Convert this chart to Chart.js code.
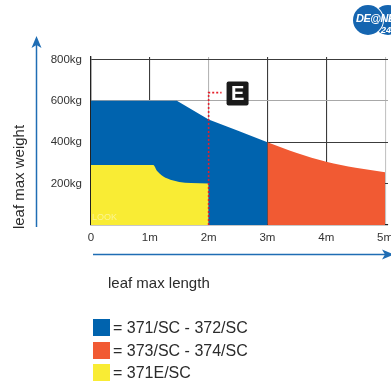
<!DOCTYPE html>
<html>
<head>
<meta charset="utf-8">
<title>leaf max weight / leaf max length</title>
<script src="https://cdn.jsdelivr.net/npm/chart.js@4.4.1/dist/chart.umd.min.js"></script>
<style>
  html, body { margin: 0; padding: 0; background: #fff; }
  #wrap {
    position: relative; width: 391px; height: 385px; overflow: hidden;
    font-family: "Liberation Sans", Arial, Helvetica, sans-serif; color: #2b2b2b;
  }
  #chart { position: absolute; left: 0; top: 0; }
  svg.arrows { position: absolute; left: 0; top: 0; }
  .ytitle {
    position: absolute; left: 18px; top: 177px; font-size: 15px; white-space: nowrap;
    transform: translate(-50%, -50%) rotate(-90deg);
  }
  .xtitle { position: absolute; left: 108px; top: 274px; font-size: 15px; white-space: nowrap; }
  .watermark { position: absolute; left: 92px; top: 212px; font-size: 9px; color: rgba(255,255,255,0.45); }
  .legend { position: absolute; left: 93px; top: 319px; font-size: 16px; }
  .legend .row { height: 22.5px; display: flex; align-items: flex-start; white-space: nowrap; }
  .legend .sw { width: 17px; height: 17px; margin-right: 3px; flex: none; }
  .legend .txt { line-height: 17px; }
  .logo { position: absolute; left: 353px; top: 5px; width: 60px; height: 32px; }
  .logo .c { position: absolute; top: 0; width: 30px; height: 30px; border-radius: 50%; background: #1565b0; box-shadow: 0 0 0 1px #fff; }
  .logo .t1 { position: absolute; left: 3px; top: 7px; color: #fff; font: italic bold 11px "Liberation Sans", Arial, sans-serif; letter-spacing: -0.5px; }
  .logo .t2 { position: absolute; left: 28px; top: 20px; color: #fff; font: italic bold 9px "Liberation Sans", Arial, sans-serif; }
</style>
</head>
<body>
<div id="wrap">
  <canvas id="chart" width="391" height="385"></canvas>

  <svg class="arrows" width="391" height="385">
    <!-- vertical (weight) arrow -->
    <line x1="36.5" y1="227" x2="36.5" y2="45" stroke="#1f6db4" stroke-width="1.5"/>
    <polygon points="36.5,36 31.5,48 36.5,45 41.5,48" fill="#1f6db4"/>
    <!-- horizontal (length) arrow -->
    <line x1="93" y1="254.5" x2="386" y2="254.5" stroke="#1f6db4" stroke-width="1.5"/>
    <polygon points="394,254.5 382,249.5 385,254.5 382,259.5" fill="#1f6db4"/>
  </svg>

  <div class="ytitle">leaf max weight</div>
  <div class="xtitle">leaf max length</div>
  <div class="watermark">LOOK</div>

  <div class="legend" id="legend"></div>

  <div class="logo">
    <div class="c" style="left:20px"></div>
    <div class="c" style="left:0"></div>
    <span class="t1">DE@NE</span>
    <span class="t2">24</span>
  </div>
</div>

<script>
    // ---- data ----
    const lengthTicks = [0, 1, 2, 3, 4, 5];          // m
    const weightTicks = [200, 400, 600, 800];        // kg

    // 371/SC - 372/SC (blue)
    const blueLength = [0, 1.46, 2, 2.5, 3];
    const blueWeight = [600, 600, 510, 455, 400];

    // 373/SC - 374/SC (red)
    const redLength = [3, 3.5, 4, 4.5, 5];
    const redWeight = [400, 348, 306, 277, 255];

    // 371E/SC (yellow)
    const yellowLength = [0, 1.06, 1.12, 1.17, 1.23, 1.3, 1.4, 1.5, 1.7, 2];
    const yellowWeight = [290, 290, 262, 248, 235, 225, 215, 208, 203, 200];

    // dotted marker leading to the "E" tag
    const markerLength = [2, 2, 2.22];
    const markerWeight = [0, 640, 640];
    const markerText = 'E';

    const seriesLabels = ['371/SC - 372/SC', '373/SC - 374/SC', '371E/SC'];
    const seriesColors = ['#0063ae', '#f15a33', '#f9ec34'];

    const FONT = '"Liberation Sans", Arial, Helvetica, sans-serif';

    function toPoints(xs, ys) {
        return xs.map((x, i) => ({ x: x, y: ys[i] }));
    }

    // legend as html
    const legendEl = document.getElementById('legend');
    seriesLabels.forEach((label, i) => {
        const row = document.createElement('div');
        row.className = 'row';
        row.innerHTML = `<span class="sw" style="background:${seriesColors[i]}"></span><span class="txt">= ${label}</span>`;
        legendEl.appendChild(row);
    });

    // black "E" tag at the end of the dotted marker
    const markerTag = {
        id: 'markerTag',
        afterDraw(chart) {
            const { ctx } = chart;
            const xs = chart.scales.x, ys = chart.scales.y;
            const last = markerLength.length - 1;
            const px = xs.getPixelForValue(markerLength[last]);
            const py = ys.getPixelForValue(markerWeight[last]);
            const w = 22, h = 24, r = 2;
            const left = px + 5, top = py - h / 2 + 1;

            ctx.save();
            ctx.fillStyle = '#1a1a1a';
            ctx.beginPath();
            ctx.moveTo(left + r, top);
            ctx.lineTo(left + w - r, top);
            ctx.quadraticCurveTo(left + w, top, left + w, top + r);
            ctx.lineTo(left + w, top + h - r);
            ctx.quadraticCurveTo(left + w, top + h, left + w - r, top + h);
            ctx.lineTo(left + r, top + h);
            ctx.quadraticCurveTo(left, top + h, left, top + h - r);
            ctx.lineTo(left, top + r);
            ctx.quadraticCurveTo(left, top, left + r, top);
            ctx.fill();

            ctx.fillStyle = '#fff';
            ctx.font = 'bold 20px ' + FONT;
            ctx.textAlign = 'center';
            ctx.textBaseline = 'middle';
            ctx.fillText(markerText, left + w / 2, top + h / 2 + 1);
            ctx.restore();
        }
    };

    new Chart(document.getElementById('chart'), {
        type: 'line',
        data: {
            datasets: [
                {
                    label: 'marker',
                    data: toPoints(markerLength, markerWeight),
                    borderColor: '#e5202a',
                    borderWidth: 1.6,
                    borderDash: [2, 2],
                    pointRadius: 0,
                    fill: false,
                    tension: 0,
                    order: 0
                },
                {
                    label: seriesLabels[2],
                    data: toPoints(yellowLength, yellowWeight),
                    backgroundColor: seriesColors[2],
                    borderWidth: 0,
                    pointRadius: 0,
                    fill: 'origin',
                    cubicInterpolationMode: 'monotone',
                    order: 1
                },
                {
                    label: seriesLabels[0],
                    data: toPoints(blueLength, blueWeight),
                    backgroundColor: seriesColors[0],
                    borderWidth: 0,
                    pointRadius: 0,
                    fill: 'origin',
                    tension: 0,
                    order: 3
                },
                {
                    label: seriesLabels[1],
                    data: toPoints(redLength, redWeight),
                    backgroundColor: seriesColors[1],
                    borderWidth: 0,
                    pointRadius: 0,
                    fill: 'origin',
                    cubicInterpolationMode: 'monotone',
                    order: 3
                }
            ]
        },
        options: {
            responsive: false,
            animation: false,
            layout: { padding: { left: 0, top: 57, right: 3, bottom: 0 } },
            plugins: {
                legend: { display: false },
                tooltip: { enabled: false }
            },
            scales: {
                x: {
                    type: 'linear',
                    min: 0,
                    max: 5.05,
                    z: 1,
                    afterBuildTicks: s => { s.ticks = lengthTicks.map(v => ({ value: v })); },
                    afterFit: s => { s.height = 160; s.paddingLeft = 0; s.paddingRight = 0; },
                    ticks: {
                        callback: v => (v === 0 ? '0' : v + 'm'),
                        font: { family: FONT, size: 11.5 },
                        color: '#333',
                        padding: 6,
                        maxRotation: 0,
                        autoSkip: false
                    },
                    grid: {
                        drawTicks: false,
                        lineWidth: 1.1,
                        color: c => {
                            const v = c.tick && c.tick.value;
                            if (v === 5) return '#c4c4c4';
                            if (v === 2) return '#b5b5b5';
                            return '#3c3c3c';
                        }
                    },
                    border: { color: '#222', width: 1.3 }
                },
                y: {
                    min: 0,
                    max: 812,
                    z: 1,
                    afterBuildTicks: s => { s.ticks = weightTicks.map(v => ({ value: v })); },
                    afterFit: s => { s.width = 91; },
                    ticks: {
                        callback: v => v + 'kg',
                        font: { family: FONT, size: 11.5 },
                        color: '#333',
                        padding: 9
                    },
                    grid: {
                        drawTicks: false,
                        lineWidth: 1.1,
                        color: c => (c.tick && c.tick.value === 600 ? '#a8a8a8' : '#3c3c3c')
                    },
                    border: { color: '#222', width: 1.3 }
                }
            }
        },
        plugins: [markerTag]
    });
</script>
</body>
</html>
